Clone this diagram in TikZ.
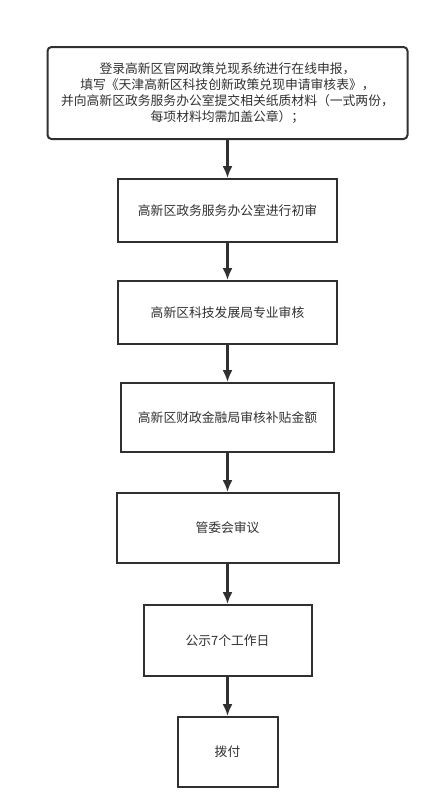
\documentclass[tikz,border=0pt]{standalone}
\usepackage{fontspec}
\newfontfamily\cjk{Noto Sans CJK SC}
\usepackage{tikz}
\usetikzlibrary{arrows.meta}
\usetikzlibrary{positioning}
\definecolor{ink}{HTML}{303030}

\begin{document}
\begin{tikzpicture}[x=1pt,y=1pt,node distance=38pt,>={Latex[length=12pt,width=10pt]},color=ink,
  font=\cjk\fontsize{12.8}{16}\selectfont,
  stepbox/.style={draw,line width=2pt,align=center,inner sep=0pt},
  flow/.style={->,line width=2.2pt}]
\path[use as bounding box] (0,0) rectangle (440,-807); 
\path node[stepbox,rounded corners=4pt,minimum width=360pt,minimum height=92pt] at (227.5,-93) (s1) {登录高新区官网政策兑现系统进行在线申报，\\填写《天津高新区科技创新政策兑现申请审核表》，\\并向高新区政务服务办公室提交相关纸质材料（一式两份，\\每项材料均需加盖公章）；}; 
\path node[stepbox,minimum width=219pt,minimum height=63pt,below =of s1] (s2) {高新区政务服务办公室进行初审}; 
\draw[flow] (s1) -- (s2) ; 
\path node[stepbox,minimum width=219pt,minimum height=63pt,below =37pt of s2] (s3) {高新区科技发展局专业审核}; 
\draw[flow] (s2) -- (s3) ; 
\path node[stepbox,minimum width=213pt,minimum height=69pt,below =37pt of s3] (s4) {高新区财政金融局审核补贴金额}; 
\draw[flow] (s3) -- (s4) ; 
\path node[stepbox,minimum width=222pt,minimum height=70pt,below =39pt of s4] (s5) {管委会审议}; 
\draw[flow] (s4) -- (s5) ; 
\path node[stepbox,minimum width=168pt,minimum height=71pt,below =40pt of s5] (s6) {公示7个工作日}; 
\draw[flow] (s5) -- (s6) ; 
\path node[stepbox,minimum width=100pt,minimum height=70pt,below =39pt of s6] (s7) {拨付}; 
\draw[flow] (s6) -- (s7) ; 
\end{tikzpicture}
\end{document}
